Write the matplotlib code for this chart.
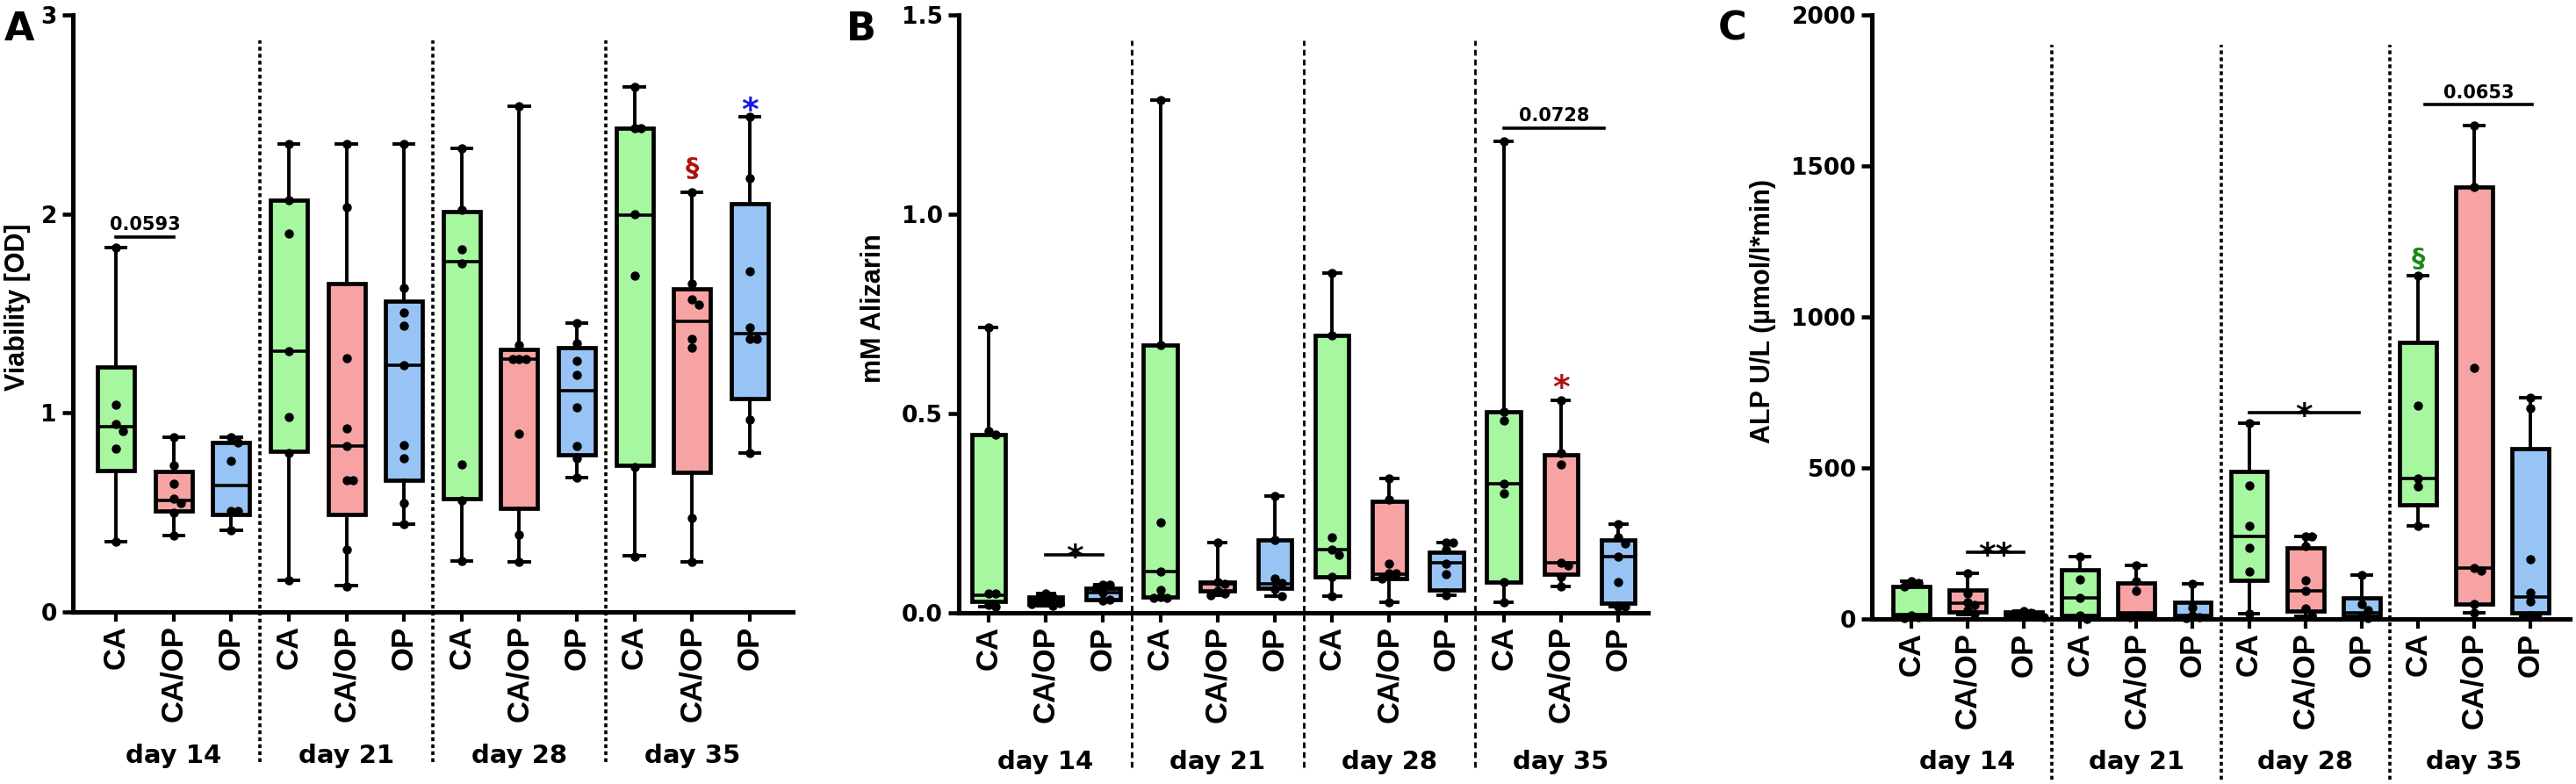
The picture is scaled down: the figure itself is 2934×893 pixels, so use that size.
import numpy as np
import matplotlib.pyplot as plt
from matplotlib import font_manager
from matplotlib.transforms import blended_transform_factory

groups = ['CA', 'CA/OP', 'OP']
days = ['day 14', 'day 21', 'day 28', 'day 35']
box_colors = ['#a6f7a0', '#f7a3a3', '#98c4f5']

# ---- A: viability (box order: d14 CA, CA/OP, OP, d21 ..., d35 OP)
via_lo  = [0.355, 0.385, 0.41, 0.159, 0.131, 0.44, 0.257, 0.252, 0.675, 0.282, 0.252, 0.80]
via_q1  = [0.71, 0.506, 0.49, 0.806, 0.49, 0.662, 0.57, 0.52, 0.79, 0.735, 0.70, 1.07]
via_med = [0.93, 0.56, 0.637, 1.31, 0.836, 1.24, 1.76, 1.27, 1.11, 1.995, 1.46, 1.40]
via_q3  = [1.23, 0.705, 0.85, 2.07, 1.65, 1.56, 2.01, 1.32, 1.327, 2.43, 1.625, 2.05]
via_hi  = [1.83, 0.877, 0.877, 2.35, 2.35, 2.35, 2.33, 2.54, 1.45, 2.64, 2.11, 2.49]
via_pts = [
    [1.83, 1.04, 0.945, 0.91, 0.82, 0.355],
    [0.877, 0.735, 0.642, 0.57, 0.547, 0.5, 0.385],
    [0.877, 0.85, 0.76, 0.506, 0.506, 0.41],
    [2.35, 2.07, 1.90, 1.31, 0.98, 0.80, 0.16],
    [2.35, 2.035, 1.277, 0.924, 0.836, 0.662, 0.662, 0.315, 0.13],
    [2.35, 1.63, 1.506, 1.44, 1.24, 0.84, 0.77, 0.547, 0.44],
    [2.33, 2.02, 1.82, 1.75, 0.743, 0.56, 0.257],
    [2.54, 1.34, 1.27, 1.27, 1.27, 0.894, 0.39, 0.25],
    [1.45, 1.35, 1.26, 1.19, 1.03, 0.836, 0.77, 0.675],
    [2.64, 2.43, 2.43, 2.0, 1.69, 0.73, 0.28],
    [2.11, 1.65, 1.57, 1.545, 1.37, 1.33, 0.47, 0.25],
    [2.49, 2.18, 1.71, 1.43, 1.37, 1.37, 0.965, 0.80],
]

# ---- B: alizarin
ali_lo  = [0.015, 0.018, 0.03, 0.037, 0.045, 0.042, 0.041, 0.026, 0.044, 0.026, 0.066, 0.016]
ali_q1  = [0.029, 0.022, 0.033, 0.04, 0.055, 0.061, 0.091, 0.085, 0.058, 0.076, 0.098, 0.025]
ali_med = [0.044, 0.03, 0.05, 0.103, 0.072, 0.072, 0.158, 0.098, 0.126, 0.323, 0.126, 0.141]
ali_q3  = [0.448, 0.039, 0.062, 0.671, 0.076, 0.183, 0.697, 0.279, 0.153, 0.505, 0.396, 0.183]
ali_hi  = [0.715, 0.049, 0.07, 1.287, 0.176, 0.294, 0.853, 0.336, 0.177, 1.183, 0.532, 0.223]
ali_pts = [
    [0.715, 0.455, 0.448, 0.049, 0.049, 0.02, 0.015],
    [0.049, 0.039, 0.036, 0.03, 0.025, 0.022, 0.018],
    [0.07, 0.07, 0.062, 0.05, 0.033, 0.03],
    [1.287, 0.671, 0.227, 0.103, 0.058, 0.04, 0.037, 0.037],
    [0.176, 0.077, 0.072, 0.055, 0.048, 0.045],
    [0.294, 0.183, 0.086, 0.074, 0.06, 0.042],
    [0.853, 0.697, 0.189, 0.158, 0.145, 0.09, 0.041],
    [0.336, 0.285, 0.123, 0.1, 0.1, 0.085, 0.026],
    [0.177, 0.177, 0.158, 0.123, 0.098, 0.044],
    [1.183, 0.505, 0.482, 0.323, 0.30, 0.076, 0.026],
    [0.532, 0.40, 0.373, 0.126, 0.119, 0.091, 0.066],
    [0.223, 0.189, 0.175, 0.141, 0.076, 0.016, 0.016],
]

# ---- C: ALP
alp_lo  = [3, 15, 5, 0, 5, 2, 17, 8, 3, 307, 20, 8]
alp_q1  = [12, 24, 10, 12, 12, 5, 129, 25, 8, 377, 50, 20]
alp_med = [15, 51, 15, 70, 21, 12, 273, 94, 20, 466, 170, 74]
alp_q3  = [107, 97, 24, 163, 119, 55, 488, 235, 71, 916, 1430, 565]
alp_hi  = [124, 150, 25, 205, 177, 116, 648, 273, 145, 1137, 1633, 732]
alp_pts = [
    [124, 118, 107, 12, 5, 3],
    [150, 84, 55, 46, 29, 17],
    [25, 20, 15, 12, 10, 5],
    [205, 131, 70, 12, 0],
    [177, 124, 94, 12, 8, 5],
    [116, 39, 12, 5, 2],
    [648, 441, 309, 235, 157, 17],
    [273, 273, 240, 127, 94, 36, 13],
    [145, 50, 30, 8, 3],
    [1137, 707, 466, 438, 307],
    [1633, 1430, 831, 170, 160, 50, 20],
    [732, 698, 198, 86, 58, 13],
]

avail = {f.name for f in font_manager.fontManager.ttflist}
narrow = 'Liberation Sans Narrow' if 'Liberation Sans Narrow' in avail else 'Liberation Sans'
lab_size = 27 if narrow == 'Liberation Sans Narrow' else 22

W, H = 2934, 893
fig = plt.figure(figsize=(W / 100, H / 100), dpi=100)


def px_axes(left, right, top, bottom):
    return fig.add_axes([left / W, (H - bottom) / H, (right - left) / W, (bottom - top) / H])


def spread(vals, thr, step):
    placed, offs = [], []
    for v in vals:
        o = 0
        for k in [0, 1, -1, 2, -2, 3, -3]:
            o = k * step
            if all(abs(v - pv) >= thr or abs(o - po) >= step * 0.9 for pv, po in placed):
                break
        placed.append((v, o))
        offs.append(o)
    return offs


def draw_panel(ax, lo, q1, med, q3, hi, pts, ymax, yticks, yticklabels, xlim,
               width, capw, sep_span, day_y, ylabel, label_x, sep_style):
    stats = [dict(whislo=a, q1=b, med=c, q3=d, whishi=e, fliers=[])
             for a, b, c, d, e in zip(lo, q1, med, q3, hi)]
    pos = np.arange(len(stats))
    bp = ax.bxp(stats, positions=pos, widths=width, capwidths=capw, patch_artist=True,
                showfliers=False,
                boxprops=dict(linewidth=3.4, edgecolor='black'),
                whiskerprops=dict(linewidth=2.8, color='black'),
                capprops=dict(linewidth=2.8, color='black'),
                medianprops=dict(linewidth=2.6, color='black'))
    for i, patch in enumerate(bp['boxes']):
        patch.set_facecolor(box_colors[i % 3])
    thr = ymax * 0.012
    for i, vals in enumerate(pts):
        offs = spread(vals, thr, 0.12)
        ax.plot(pos[i] + np.array(offs), vals, 'o', color='black', markersize=6.5,
                zorder=6, clip_on=False)

    ax.set_xlim(*xlim)
    ax.set_ylim(0, ymax)
    ax.set_yticks(yticks, yticklabels, fontsize=19, fontweight='bold', family='DejaVu Sans')
    ax.set_xticks(pos, groups * 4, rotation=90, fontsize=25, fontweight='bold',
                  family='Liberation Sans')
    ax.tick_params(axis='y', direction='out', length=9, width=3.3, pad=4)
    ax.tick_params(axis='x', direction='out', length=8, width=3, pad=3)
    for s in ['top', 'right']:
        ax.spines[s].set_visible(False)
    for s in ['left', 'bottom']:
        ax.spines[s].set_linewidth(3.7)

    for s in [2.5, 5.5, 8.5]:
        ax.axvline(s, ymin=sep_span[0], ymax=sep_span[1], color='black', clip_on=False,
                   linewidth=sep_style[0], linestyle=(0, sep_style[1]), zorder=1)
    tr = blended_transform_factory(ax.transData, ax.transAxes)
    for k, d in enumerate(days):
        ax.text(3 * k + 1, day_y, d, transform=tr, ha='center', va='center',
                fontsize=21, fontweight='bold', family='DejaVu Sans')
    ax.set_ylabel(ylabel, family=narrow, fontweight='bold', fontsize=lab_size, va='center')
    ax.yaxis.set_label_coords(label_x, 0.51)


def bracket(ax, x1, x2, y, text, ty, size=15, color='black'):
    ax.plot([x1, x2], [y, y], color='black', linewidth=2.6)
    ax.text((x1 + x2) / 2, ty, text, ha='center', va='baseline', fontsize=size,
            fontweight='bold', family='DejaVu Sans', color=color)


def mark(ax, x, y, text, color, size):
    ax.text(x, y, text, ha='center', va='baseline', fontsize=size, fontweight='bold',
            family='DejaVu Sans', color=color)


# Panel A
axA = px_axes(83, 903, 17, 697)
draw_panel(axA, via_lo, via_q1, via_med, via_q3, via_hi, via_pts, 3,
           [0, 1, 2, 3], ['0', '1', '2', '3'], (-0.75, 11.75), 0.64, 0.34,
           (-0.251, 0.957), -0.241, 'Viability [OD]', -0.077, (2.6, (1.2, 1.0)))
bracket(axA, 0, 1, 1.884, '0.0593', 1.92)
mark(axA, 10, 2.19, '§', '#b01010', 22)
mark(axA, 11, 2.47, '*', '#1818e0', 27)

# Panel B
axB = px_axes(1092, 1877, 17, 698)
draw_panel(axB, ali_lo, ali_q1, ali_med, ali_q3, ali_hi, ali_pts, 1.5,
           [0, 0.5, 1.0, 1.5], ['0.0', '0.5', '1.0', '1.5'], (-0.52, 11.52), 0.59, 0.29,
           (-0.258, 0.957), -0.25, 'mM Alizarin', -0.124, (2.0, (2.4, 1.6)))
bracket(axB, 1, 2, 0.145, '*', 0.115, size=27)
bracket(axB, 9, 10.75, 1.215, '0.0728', 1.233)
mark(axB, 10, 0.54, '*', '#b01010', 27)

# Panel C
axC = px_axes(2132, 2927, 17, 705)
draw_panel(axC, alp_lo, alp_q1, alp_med, alp_q3, alp_hi, alp_pts, 2000,
           [0, 500, 1000, 1500, 2000], ['0', '500', '1000', '1500', '2000'],
           (-0.7, 11.7), 0.65, 0.34,
           (-0.266, 0.95), -0.237, 'ALP U/L (µmol/l*min)', -0.156, (2.6, (1.2, 1.0)))
bracket(axC, 1, 2, 220, '**', 178, size=27)
bracket(axC, 6, 7.95, 684, '*', 640, size=27)
bracket(axC, 9.12, 11.03, 1703, '0.0653', 1725)
mark(axC, 9, 1165, '§', '#1a8a1a', 22)

for x, letter in [(22, 'A'), (981, 'B'), (1973, 'C')]:
    fig.text(x / W, 1 - 33 / H, letter, ha='center', va='center', fontsize=32,
             fontweight='bold', family='DejaVu Sans')

fig.savefig('out.png', dpi=100)
